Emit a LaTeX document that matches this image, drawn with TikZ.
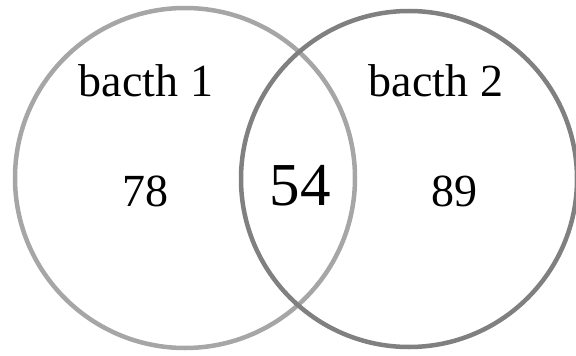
\documentclass[tikz,border=0pt]{standalone}
\usepackage{fontspec}
\setmainfont{Liberation Serif}
\usepackage{tikz}

\begin{document}
\begin{tikzpicture}[x=1pt,y=-1pt,
  set/.style={circle,line width=4.5pt,minimum size=#1,inner sep=0pt},
  lbl/.style={anchor=base,font=\fontsize{46}{50}\selectfont},
  big/.style={anchor=base,font=\fontsize{61}{65}\selectfont}]
\useasboundingbox (0,0) rectangle (576,356);
% circles
\node [set=340pt,draw={rgb,255:red,166;green,166;blue,166}] (batchone) at (185,178) {};
\node [set=336pt,draw={rgb,255:red,128;green,128;blue,128}] (batchtwo) at (409,179) {};
% labels
\node [lbl] (nameone) at (146,96) {bacth 1};
\node [lbl] (nametwo) at (436,96) {bacth 2};
\node [lbl] (onlyone) at (145,206) {78};
\node [big] (both) at (300,205) {54};
\node [lbl] (onlytwo) at (454,206) {89};
\end{tikzpicture}
\end{document}
